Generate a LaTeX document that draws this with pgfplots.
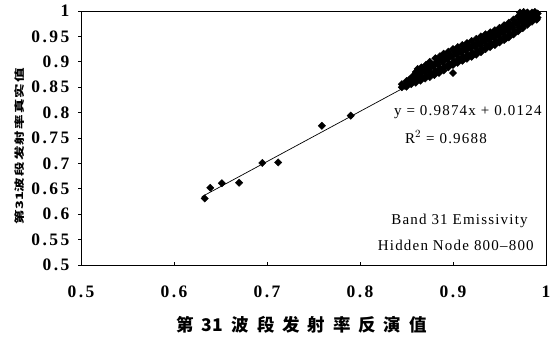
\documentclass[border=0pt]{standalone}
\usepackage{pgfplots}
\pgfplotsset{compat=1.18}
\usepackage{fontspec}
\setmainfont{Liberation Serif}
\newfontfamily\cjk{Noto Sans CJK SC}[LetterSpace=45]
\newfontfamily\cjkn{Noto Sans CJK SC}
\newfontfamily\cjky{Noto Sans CJK SC}[LetterSpace=8]
\newfontfamily\tickfont{Liberation Serif}[LetterSpace=14]
\newfontfamily\annfont{Liberation Serif}[LetterSpace=8]
\begin{document}
\begin{tikzpicture}
\begin{axis}[
  scale only axis,
  width=465pt, height=254pt,
  xmin=0.5, xmax=1, ymin=0.5, ymax=1,
  xtick={0.5,0.6,0.7,0.8,0.9,1},
  xticklabels={0.5,0.6,0.7,0.8,0.9,1},
  ytick={0.5,0.55,0.6,0.65,0.7,0.75,0.8,0.85,0.9,0.95,1},
  yticklabels={0.5,0.55,0.6,0.65,0.7,0.75,0.8,0.85,0.9,0.95,1},
  xtick pos=left, ytick pos=left,
  tick align=inside,
  major tick length=3pt,
  ytick style={xshift=-3pt},
  tick style={black, line width=0.8pt},
  axis line style={line width=1pt},
  ticklabel style={font=\tickfont\bfseries\fontsize{17.5}{17.5}\selectfont},
  xticklabel style={yshift=-17pt},
  yticklabel style={xshift=-8pt},
  clip=false,
]
\addplot[only marks, mark=square*, mark size=2.6pt, mark options={fill=black, draw=black, rotate=45}] table {
x y
0.633 0.631
0.639 0.652
0.6515 0.661
0.670 0.662
0.695 0.701
0.712 0.702
0.759 0.774
0.790 0.794
0.862 0.886
0.900 0.878
0.957 0.946
0.845 0.850
0.845 0.856
0.848 0.853
0.850 0.851
0.851 0.857
0.850 0.862
0.853 0.865
0.855 0.856
0.856 0.861
0.855 0.867
0.857 0.872
0.860 0.859
0.861 0.865
0.860 0.871
0.862 0.876
0.860 0.880
0.865 0.863
0.866 0.869
0.864 0.875
0.867 0.881
0.866 0.889
0.870 0.867
0.871 0.873
0.870 0.880
0.872 0.888
0.871 0.894
0.875 0.870
0.876 0.878
0.874 0.885
0.877 0.893
0.875 0.900
0.880 0.874
0.881 0.882
0.879 0.891
0.882 0.899
0.881 0.907
0.885 0.878
0.886 0.887
0.884 0.895
0.887 0.904
0.886 0.911
0.890 0.883
0.891 0.891
0.889 0.900
0.892 0.909
0.890 0.916
0.895 0.889
0.896 0.896
0.894 0.905
0.897 0.913
0.895 0.920
0.900 0.894
0.901 0.901
0.899 0.910
0.902 0.918
0.900 0.925
0.905 0.898
0.906 0.906
0.904 0.914
0.907 0.922
0.905 0.929
0.910 0.902
0.911 0.910
0.909 0.918
0.912 0.926
0.910 0.933
0.915 0.906
0.916 0.913
0.914 0.922
0.917 0.930
0.915 0.937
0.920 0.910
0.921 0.917
0.919 0.926
0.922 0.934
0.920 0.941
0.925 0.914
0.926 0.921
0.924 0.930
0.927 0.938
0.925 0.945
0.930 0.919
0.931 0.926
0.929 0.935
0.932 0.943
0.930 0.950
0.935 0.925
0.936 0.932
0.934 0.940
0.937 0.948
0.935 0.954
0.940 0.929
0.941 0.936
0.939 0.944
0.942 0.952
0.940 0.958
0.945 0.933
0.946 0.940
0.944 0.948
0.947 0.956
0.945 0.962
0.950 0.938
0.951 0.945
0.949 0.953
0.952 0.961
0.950 0.967
0.955 0.943
0.956 0.950
0.954 0.958
0.957 0.966
0.955 0.972
0.960 0.948
0.961 0.955
0.959 0.963
0.962 0.971
0.960 0.977
0.965 0.954
0.966 0.961
0.964 0.969
0.967 0.977
0.965 0.983
0.970 0.960
0.971 0.967
0.969 0.975
0.972 0.983
0.970 0.989
0.975 0.966
0.976 0.972
0.974 0.980
0.977 0.988
0.975 0.994
0.980 0.973
0.981 0.978
0.979 0.985
0.982 0.991
0.980 0.997
0.985 0.979
0.986 0.983
0.984 0.988
0.987 0.993
0.985 0.997
0.990 0.983
0.991 0.987
0.989 0.991
0.991 0.995
0.988 0.998
0.972 0.997
0.976 0.998
};
\addplot[black, line width=0.7pt] coordinates {(0.63,0.6345) (0.98,0.98)};
\node[anchor=east, font=\annfont\fontsize{15}{15}\selectfont] at (axis cs:0.999,0.801) {y = 0.9874x + 0.0124};
\node[font=\annfont\fontsize{15}{15}\selectfont] at (axis cs:0.8925,0.752) {R$^{2}$ = 0.9688};
\node[font=\annfont\fontsize{15}{15}\selectfont] at (axis cs:0.907,0.587) {Band 31 Emissivity};
\node[font=\annfont\fontsize{15}{15}\selectfont] at (axis cs:0.903,0.539) {Hidden Node 800–800};
\node[font=\cjk\bfseries\fontsize{17.5}{17.5}\selectfont] at (rel axis cs:0.475,-0.236) {第\hspace{7pt}{\cjkn 31}\hspace{9pt}波段发射率反演值};
\node[rotate=90, font=\cjky\bfseries\fontsize{14.5}{14.5}\selectfont] at (rel axis cs:-0.133,0.468) {\scalebox{1}[0.7]{第{\cjkn 31}波段发射率真实值}};
\end{axis}
\pgfresetboundingbox
\path[use as bounding box] (current axis.south west) ++(-81pt,-75pt) rectangle ([shift={(9pt,11pt)}]current axis.north east);
\end{tikzpicture}
\end{document}
